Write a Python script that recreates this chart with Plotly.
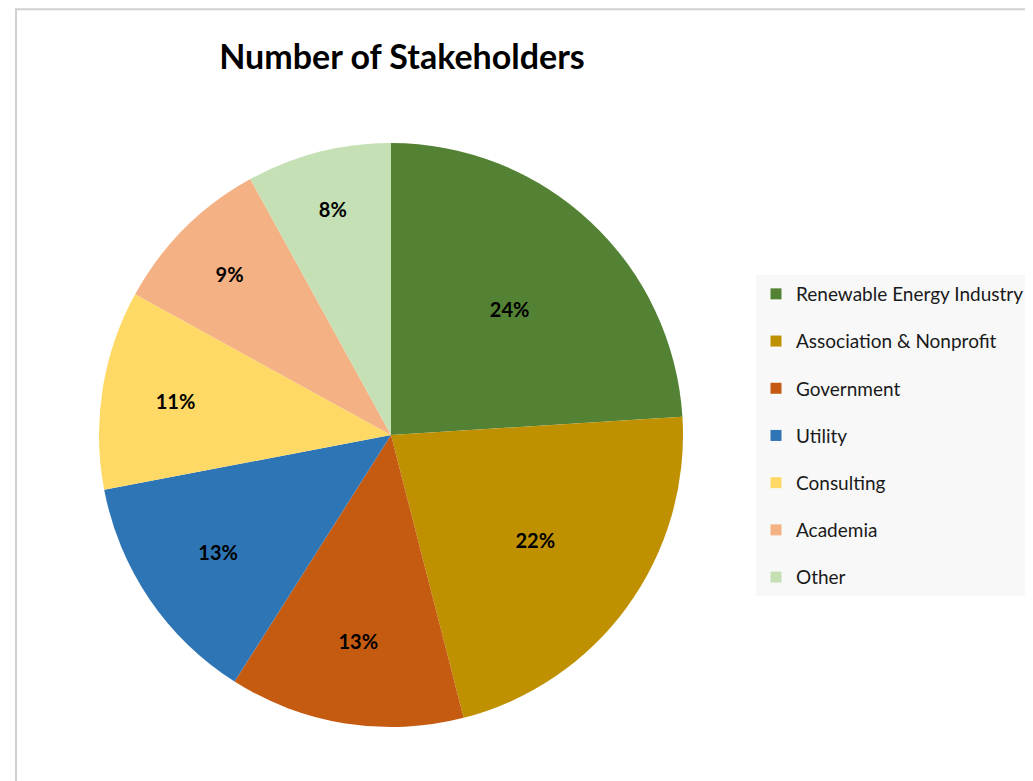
import plotly.graph_objects as go

# ---- data ----
categories = ["Renewable Energy Industry", "Association & Nonprofit", "Government",
              "Utility", "Consulting", "Academia", "Other"]
shares = [24, 22, 13, 13, 11, 9, 8]
colors = ["#548235", "#BF9000", "#C55A11", "#2E75B6", "#FFD966", "#F4B183", "#C5E0B4"]
title_text = "Number of Stakeholders"

W, H = 1033, 781
OFF = 8  # page body margin offset in the browser
FONT = "Lato"


def px(xp):
    return (xp - OFF) / W


def py(yp):
    return 1 - (yp - OFF) / H


fig = go.Figure()

cx, cy, r = 391, 435, 292
fig.add_trace(go.Pie(
    labels=categories,
    values=shares,
    marker=dict(colors=colors, line=dict(width=0)),
    sort=False,
    direction="clockwise",
    rotation=0,
    textinfo="percent",
    textposition="inside",
    insidetextorientation="horizontal",
    textfont=dict(family=FONT, size=20, color="#000000", weight="bold"),
    showlegend=False,
    hoverinfo="label+percent",
    domain=dict(x=[px(cx - r), px(cx + r)],
                y=[py(cy + r), py(cy - r)]),
))

for i, (name, col) in enumerate(zip(categories, colors)):
    fig.add_trace(go.Scatter(
        x=[None], y=[None], mode="markers", name=name,
        legendgroup=f"g{i}",
        marker=dict(symbol="square", size=11, color=col),
        hoverinfo="skip",
    ))

fig.update_layout(
    width=W, height=H,
    margin=dict(l=0, r=0, t=0, b=0),
    paper_bgcolor="white",
    plot_bgcolor="white",
    xaxis=dict(visible=False, domain=[0.99, 1.0]),
    yaxis=dict(visible=False, domain=[0.99, 1.0]),
    title=dict(text=f"<b>{title_text}</b>", x=px(402), xanchor="center",
               y=py(57), yanchor="middle",
               font=dict(family=FONT, size=34, color="#000000")),
    legend=dict(
        x=px(756), xanchor="left",
        y=py(275), yanchor="top",
        bgcolor="#F8F8F8",
        borderwidth=0,
        font=dict(family=FONT, size=19, color="#1a1a1a"),
        tracegroupgap=19.5,
        traceorder="grouped",
        itemclick=False,
    ),
    shapes=[dict(type="rect", xref="paper", yref="paper",
                 x0=px(16), x1=1.05, y0=-0.05, y1=1 - 1.2 / H,
                 line=dict(color="#D0D0D0", width=2), fillcolor="rgba(0,0,0,0)",
                 layer="below")],
)

fig.write_html("out.html")
